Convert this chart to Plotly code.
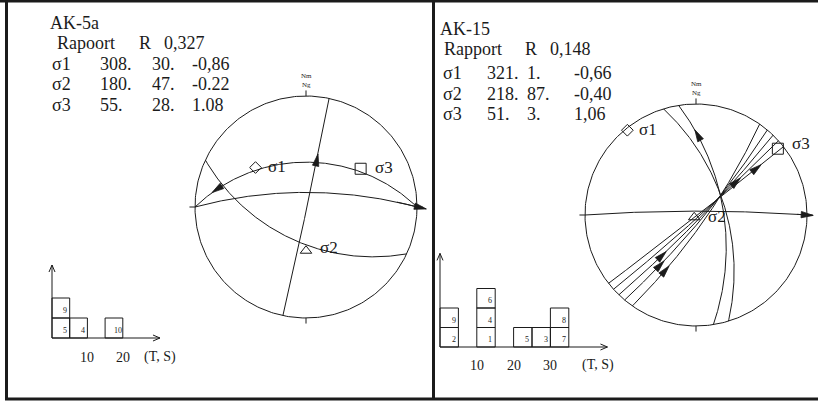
import numpy as np
import plotly.graph_objects as go

# ---------------- stress inversion summaries ----------------
left_site = "AK-5a"
left_ratio_word = "Rapoort"
left_ratio = "0,327"
left_axis_names = ["σ1", "σ2", "σ3"]
left_axis_trend = [308, 180, 55]
left_axis_plunge = [30, 47, 28]
left_axis_value = ["-0,86", "-0.22", "1.08"]

right_site = "AK-15"
right_ratio_word = "Rapport"
right_ratio = "0,148"
right_axis_names = ["σ1", "σ2", "σ3"]
right_axis_trend = [321, 218, 51]
right_axis_plunge = [1, 87, 3]
right_axis_value = ["-0,66", "-0,40", "1,06"]

# ---------------- fault planes: strike / dip (right-hand rule) ----------------
left_fault_strike = [12, 270, 270, 115]
left_fault_dip = [89, 46, 75, 55]
right_fault_strike = [270, 343, 351, 35, 40, 44, 48, 52]
right_fault_dip = [86, 60, 62, 80, 83, 85, 87, 89]

# ---------------- striae: fault index, rake from strike, sense along trace ----------------
left_stria_fault = [0, 1, 2]
left_stria_rake = [43, 16, 172]
left_stria_sense = [-1, -1, 1]
right_stria_fault = [0, 2, 3, 4, 5, 6, 7]
right_stria_rake = [178, 21, 149, 148, 141, 40, 21]
right_stria_sense = [1, -1, -1, -1, -1, -1, -1]

# ---------------- (T, S) histograms: bin start, fault number ----------------
hist_bin_width = 5
left_hist_bin = [0, 0, 5, 15]
left_hist_id = [5, 9, 4, 10]
left_hist_ticks = [10, 20]
right_hist_bin = [0, 0, 10, 10, 10, 20, 25, 30, 30]
right_hist_id = [2, 9, 1, 4, 6, 5, 3, 7, 8]
right_hist_ticks = [10, 20, 30]

# ---------------- layout constants ----------------
W, H = 818, 407
R_PX = 111
INK = "#1b1b1b"
FONT = "Liberation Serif"

# drawn length (px) of each slip arrow, head included
left_arrow_len = [12, 12, 30]
right_arrow_len = [16, 12, 12, 12, 12, 12, 12]

fig = go.Figure()
layout_axes = {}
annotations = []
shapes = []


def px_to_paper(x, y):
    return x / W, 1 - y / H


def add_axes(idx, origin, xr, yr, sx, sy):
    """Axis pair whose data origin sits at pixel `origin` with given px/unit scales."""
    ox, oy = origin
    xd = [(ox + xr[0] * sx) / W, (ox + xr[1] * sx) / W]
    yd = [1 - (oy - yr[0] * sy) / H, 1 - (oy - yr[1] * sy) / H]
    sfx = "" if idx == 1 else str(idx)
    common = dict(visible=False, fixedrange=True, showgrid=False, zeroline=False)
    layout_axes["xaxis" + sfx] = dict(domain=xd, range=xr, anchor="y" + sfx, **common)
    layout_axes["yaxis" + sfx] = dict(domain=yd, range=yr, anchor="x" + sfx, **common)
    return "x" + sfx, "y" + sfx


def line_vec(trend, plunge):
    t, p = np.radians(trend), np.radians(plunge)
    return np.array([np.cos(p) * np.sin(t), np.cos(p) * np.cos(t), np.sin(p)])


def stereo(v):
    # Wulff net, lower hemisphere
    return v[..., 0] / (1 + v[..., 2]), v[..., 1] / (1 + v[..., 2])


def plane_basis(strike, dip):
    s, d = np.radians(strike), np.radians(dip)
    dd = s + np.pi / 2
    sv = np.array([np.sin(s), np.cos(s), 0.0])
    dv = np.array([np.cos(d) * np.sin(dd), np.cos(d) * np.cos(dd), np.sin(d)])
    return sv, dv


def plane_point(strike, dip, rake):
    sv, dv = plane_basis(strike, dip)
    r = np.radians(rake)
    return np.cos(r) * sv + np.sin(r) * dv


def line_trace(xa, ya, x, y, width=1):
    fig.add_trace(go.Scatter(x=x, y=y, xaxis=xa, yaxis=ya, mode="lines",
                             line=dict(color=INK, width=width), hoverinfo="skip",
                             showlegend=False))


def draw_net(xa, ya, strikes, dips, s_fault, s_rake, s_sense, s_len,
             trends, plunges, names, label_shift):
    th = np.linspace(0, 2 * np.pi, 361)
    line_trace(xa, ya, np.cos(th), np.sin(th))
    # cardinal ticks
    for ux, uy in [(0, 1), (0, -1), (1, 0), (-1, 0)]:
        line_trace(xa, ya, [ux, ux * 1.05], [uy, uy * 1.05])
    for lab, dy in [("Nm", 20), ("Ng", 11)]:
        annotations.append(dict(x=0, y=1, xref=xa, yref=ya, text=lab, showarrow=False,
                                yshift=dy, font=dict(family=FONT, size=7, color=INK)))
    # fault traces
    for st, dp in zip(strikes, dips):
        sv, dv = plane_basis(st, dp)
        t = np.linspace(0, np.pi, 241)
        v = np.outer(np.cos(t), sv) + np.outer(np.sin(t), dv)
        x, y = stereo(v)
        line_trace(xa, ya, x, y)
    # slip arrows along the traces
    L, hw = 12 / R_PX, 3.2 / R_PX
    for fi, rk, sn, ln in zip(s_fault, s_rake, s_sense, s_len):
        p = np.array(stereo(plane_point(strikes[fi], dips[fi], rk)))
        q = np.array(stereo(plane_point(strikes[fi], dips[fi], rk + 0.5 * sn)))
        d = (q - p) / np.linalg.norm(q - p)
        n = np.array([-d[1], d[0]])
        start = p - d * L * 0.5
        tip = start + d * ln / R_PX
        base = tip - d * L
        if ln > 12:
            line_trace(xa, ya, [start[0], tip[0]], [start[1], tip[1]])
        c1, c2 = base + n * hw, base - n * hw
        fig.add_trace(go.Scatter(x=[tip[0], c1[0], c2[0], tip[0]],
                                 y=[tip[1], c1[1], c2[1], tip[1]],
                                 xaxis=xa, yaxis=ya, mode="lines", fill="toself",
                                 fillcolor=INK, line=dict(color=INK, width=0.8),
                                 hoverinfo="skip", showlegend=False))
    # principal stress axes
    symbols = ["diamond-open", "triangle-up-open", "square-open"]
    sizes = [9, 10, 11]
    for tr, pl, nm, sym, sz, (sx, sy) in zip(trends, plunges, names, symbols, sizes, label_shift):
        x, y = stereo(line_vec(tr, pl))
        fig.add_trace(go.Scatter(x=[x], y=[y], xaxis=xa, yaxis=ya, mode="markers",
                                 marker=dict(symbol=sym, size=sz, color=INK,
                                             line=dict(width=1, color=INK)),
                                 hoverinfo="skip", showlegend=False))
        annotations.append(dict(x=x, y=y, xref=xa, yref=ya, text=nm, showarrow=False,
                                xanchor="left", yanchor="middle", xshift=sx, yshift=sy,
                                font=dict(family=FONT, size=17, color=INK)))


def draw_hist(xa, ya, bins, ids, ticks, x_end, y_end, sx, sy, label_drop, ts_x):
    level = {}
    for b, fid in zip(bins, ids):
        k = level.get(b, 0)
        level[b] = k + 1
        shapes.append(dict(type="rect", xref=xa, yref=ya, x0=b, x1=b + hist_bin_width,
                           y0=k, y1=k + 1, line=dict(color=INK, width=1)))
        annotations.append(dict(x=b + 0.74 * hist_bin_width, y=k + 0.36, xref=xa, yref=ya,
                                text=str(fid), showarrow=False,
                                font=dict(family=FONT, size=8, color=INK)))
    # axes with open arrowheads
    line_trace(xa, ya, [0, x_end], [0, 0])
    line_trace(xa, ya, [0, 0], [0, y_end])
    line_trace(xa, ya, [x_end - 7 / sx, x_end, x_end - 7 / sx], [3 / sy, 0, -3 / sy])
    line_trace(xa, ya, [-3 / sx, 0, 3 / sx], [y_end - 7 / sy, y_end, y_end - 7 / sy])
    for t in ticks:
        annotations.append(dict(x=t, y=0, xref=xa, yref=ya, text=str(t), showarrow=False,
                                yshift=-label_drop, font=dict(family=FONT, size=14, color=INK)))
    annotations.append(dict(x=ts_x, y=0, xref=xa, yref=ya, text="(T, S)", showarrow=False,
                            xanchor="left", yshift=-label_drop,
                            font=dict(family=FONT, size=14, color=INK)))


def draw_table(px, site, word, ratio, names, trends, plunges, values, cols):
    x0, y0 = px

    def put(x, y, s):
        xp, yp = px_to_paper(x, y)
        annotations.append(dict(x=xp, y=yp, xref="paper", yref="paper", text=s,
                                showarrow=False, xanchor="left", yanchor="middle",
                                font=dict(family=FONT, size=18, color=INK)))
    put(x0, y0, site)
    put(x0 + cols["word"], y0 + 20, word)
    put(x0 + cols["R"], y0 + 20, "R")
    put(x0 + cols["ratio"], y0 + 20, ratio)
    for i, (nm, tr, pl, val) in enumerate(zip(names, trends, plunges, values)):
        y = y0 + cols["row0"] + i * cols["dy"]
        put(x0 + cols["name"], y, nm)
        put(x0 + cols["trend"], y, f"{tr}.")
        put(x0 + cols["plunge"], y, f"{pl}.")
        put(x0 + cols["value"], y, val)


# ---------------- left panel ----------------
xa, ya = add_axes(1, (306, 207), [-126 / R_PX, 126 / R_PX], [-126 / R_PX, 126 / R_PX], R_PX, R_PX)
draw_net(xa, ya, left_fault_strike, left_fault_dip, left_stria_fault, left_stria_rake,
         left_stria_sense, left_arrow_len, left_axis_trend, left_axis_plunge, left_axis_names,
         [(10, 1), (12, 3), (12, 1)])
draw_table((48, 23), left_site, left_ratio_word, left_ratio, left_axis_names,
           left_axis_trend, left_axis_plunge, left_axis_value,
           dict(word=7, R=89, ratio=114, name=2, trend=50, plunge=102, value=142,
                row0=41, dy=20.5))

xh, yh = add_axes(3, (52, 338), [-2, 34], [-0.4, 4], 3.54, 20)
draw_hist(xh, yh, left_hist_bin, left_hist_id, left_hist_ticks, 30.5, 3.65, 3.54, 20, 19, 25.5)

# ---------------- right panel ----------------
xa2, ya2 = add_axes(2, (696, 215), [-120 / R_PX, 120 / R_PX], [-122 / R_PX, 122 / R_PX], R_PX, R_PX)
draw_net(xa2, ya2, right_fault_strike, right_fault_dip, right_stria_fault, right_stria_rake,
         right_stria_sense, right_arrow_len, right_axis_trend, right_axis_plunge,
         right_axis_names, [(10, 1), (12, 1), (12, 5)])
draw_table((438, 29), right_site, right_ratio_word, right_ratio, right_axis_names,
           right_axis_trend, right_axis_plunge, right_axis_value,
           dict(word=4, R=85, ratio=110, name=3, trend=47, plunge=87, value=134,
                row0=44, dy=20.5))

xh2, yh2 = add_axes(4, (440, 347), [-2, 47], [-0.4, 5], 3.68, 19.5)
draw_hist(xh2, yh2, right_hist_bin, right_hist_id, right_hist_ticks, 45.5, 4.8, 3.68, 19.5, 18, 38)

# ---------------- frame ----------------
frame = [((0, 1), (W, 1)), ((6.5, 0), (6.5, 400)), ((5, 399), (W, 399)), ((433.5, 0), (433.5, 400))]
for (xa_, ya_), (xb_, yb_) in frame:
    p0, p1 = px_to_paper(xa_, ya_), px_to_paper(xb_, yb_)
    shapes.append(dict(type="line", xref="paper", yref="paper", x0=p0[0], y0=p0[1],
                       x1=p1[0], y1=p1[1], line=dict(color=INK, width=3)))

fig.update_layout(width=W, height=H, margin=dict(l=0, r=0, t=0, b=0),
                  paper_bgcolor="white", plot_bgcolor="rgba(0,0,0,0)",
                  showlegend=False, annotations=annotations, shapes=shapes, **layout_axes)
fig.write_html("out.html")
